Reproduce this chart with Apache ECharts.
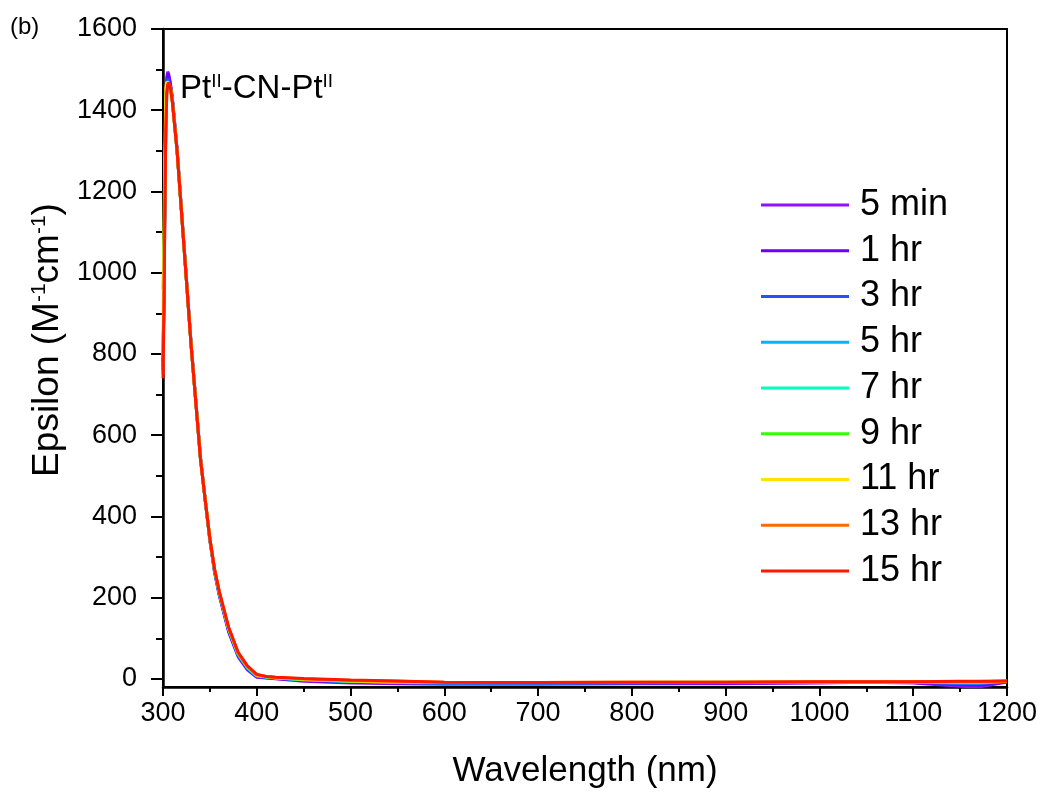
<!DOCTYPE html>
<html>
<head>
<meta charset="utf-8">
<script src="https://cdn.jsdelivr.net/npm/echarts@6/dist/echarts.min.js"></script>
<style>
  html, body { margin: 0; padding: 0; background: #fff; }
  #chart { width: 1043px; height: 792px; }
</style>
</head>
<body>
<div id="chart"></div>
<script>
// 波长 (nm)
var wavelength = [300, 301, 302, 303, 304, 305, 306, 308, 310, 315, 320, 325, 330, 335, 340, 345, 350, 355, 360, 370, 380, 390, 400, 410, 420, 450, 500, 550, 600, 700, 800, 900, 1000, 1050, 1100, 1150, 1170, 1200]

// 各时间点的 epsilon
var eps5min = [760, 950, 1200, 1400, 1480, 1495, 1490, 1465, 1430, 1305, 1145, 985, 825, 685, 545, 440, 340, 262, 205, 115, 55, 22, 4, 2, 0, -6, -10, -12, -13, -13, -12, -12, -10, -8, -10, -18, -20, -8]
var eps1hr = [780, 960, 1210, 1390, 1470, 1490, 1485, 1462, 1428, 1303, 1143, 983, 823, 683, 543, 440, 342, 265, 208, 118, 58, 24, 5, 3, 1, -4, -8, -10, -11, -11, -11, -10, -9, -8, -9, -14, -16, -7]
var eps3hr = [770, 955, 1190, 1380, 1460, 1478, 1478, 1458, 1425, 1302, 1142, 982, 822, 682, 542, 441, 343, 267, 210, 121, 60, 26, 6, 4, 2, -3, -7, -9, -10, -10, -10, -9, -9, -8, -8, -11, -12, -7]
var eps5hr = [775, 950, 1185, 1375, 1455, 1472, 1474, 1456, 1423, 1301, 1141, 981, 821, 682, 542, 441, 344, 268, 211, 122, 61, 27, 7, 4, 2, -2, -6, -9, -10, -10, -9, -9, -8, -8, -8, -10, -10, -6]
var eps7hr = [790, 955, 1180, 1370, 1452, 1470, 1472, 1455, 1422, 1300, 1141, 981, 821, 681, 542, 441, 344, 268, 212, 123, 62, 28, 8, 5, 3, -2, -6, -8, -9, -9, -9, -9, -8, -8, -8, -9, -9, -6]
var eps9hr = [960, 1050, 1200, 1365, 1450, 1468, 1471, 1455, 1421, 1300, 1140, 980, 821, 681, 541, 441, 345, 269, 213, 124, 63, 29, 8, 5, 3, -1, -5, -8, -9, -9, -9, -8, -8, -7, -7, -8, -8, -6]
var eps11hr = [800, 1100, 1300, 1455, 1470, 1470, 1470, 1454, 1420, 1300, 1140, 980, 820, 681, 541, 441, 345, 270, 214, 125, 64, 30, 9, 5, 3, -1, -5, -7, -9, -9, -8, -8, -7, -7, -7, -7, -7, -5]
var eps13hr = [750, 920, 1160, 1355, 1442, 1465, 1469, 1454, 1420, 1300, 1140, 980, 820, 680, 541, 441, 345, 270, 215, 126, 65, 31, 10, 6, 4, 0, -4, -6, -8, -9, -8, -8, -7, -7, -7, -7, -7, -5]
var eps15hr = [740, 900, 1150, 1350, 1440, 1462, 1468, 1455, 1420, 1300, 1140, 980, 820, 680, 540, 440, 345, 270, 215, 127, 66, 32, 11, 6, 4, 1, -3, -5, -8, -9, -8, -8, -7, -7, -7, -6, -6, -5]

var seriesNames = ['5 min', '1 hr', '3 hr', '5 hr', '7 hr', '9 hr', '11 hr', '13 hr', '15 hr']
var seriesValues = [eps5min, eps1hr, eps3hr, eps5hr, eps7hr, eps9hr, eps11hr, eps13hr, eps15hr]
var seriesColors = ['#9010ff', '#6a00ff', '#2450ff', '#00b4ff', '#00ffc0', '#33ff00', '#ffe400', '#ff6a00', '#ff1800']

var yTicks = [0, 200, 400, 600, 800, 1000, 1200, 1400, 1600]

var font = 'Liberation Sans, Arial, sans-serif'

var chart = echarts.init(document.getElementById('chart'))

var series = seriesNames.map(function (name, i) {
  return {
    name: name,
    type: 'line',
    symbol: 'none',
    silent: true,
    lineStyle: { color: seriesColors[i], width: 3 },
    itemStyle: { color: seriesColors[i] },
    data: wavelength.map(function (w, j) { return [w, seriesValues[i][j]] })
  }
})

var option = {
  animation: false,
  backgroundColor: '#fff',
  grid: {
    left: 163, right: 36, top: 29, bottom: 105,
    outerBoundsMode: 'none',
    show: true, borderColor: '#000', borderWidth: 2
  },
  legend: {
    orient: 'vertical',
    left: 756,
    top: 182,
    icon: 'rect',
    itemWidth: 88,
    itemHeight: 3,
    itemGap: 9.75,
    textStyle: { fontFamily: font, fontSize: 36, lineHeight: 36, color: '#000', padding: [0, 0, 0, 6] },
    data: seriesNames
  },
  xAxis: {
    type: 'value',
    min: 300,
    max: 1200,
    interval: 100,
    name: 'Wavelength (nm)',
    nameLocation: 'middle',
    nameGap: 67,
    nameTextStyle: { fontFamily: font, fontSize: 35, color: '#000' },
    axisLine: { onZero: false, lineStyle: { color: '#000', width: 2.5 } },
    axisTick: { inside: false, length: 9, lineStyle: { color: '#000', width: 2 } },
    minorTick: { show: true, splitNumber: 2, length: 5, lineStyle: { color: '#000', width: 2 } },
    axisLabel: {
      fontFamily: font, fontSize: 27, color: '#000', margin: 13,
      formatter: function (v) { return String(v) }
    },
    splitLine: { show: false }
  },
  yAxis: {
    type: 'value',
    min: -20,
    max: 1600,
    splitNumber: 8,
    name: 'Epsilon (M{sup|-1}cm{sup|-1})',
    nameLocation: 'middle',
    nameRotate: 90,
    nameGap: 90,
    nameTextStyle: {
      fontFamily: font, fontSize: 37, color: '#000', padding: [0, 0, 0, 36],
      rich: { sup: { fontFamily: font, fontSize: 21, color: '#000', verticalAlign: 'top', padding: [0, 0, 16, 0] } }
    },
    axisLine: { onZero: false, lineStyle: { color: '#000', width: 2.5 } },
    axisTick: { inside: false, length: 12, customValues: yTicks, lineStyle: { color: '#000', width: 2 } },
    minorTick: { show: true, splitNumber: 2, length: 7, lineStyle: { color: '#000', width: 2 } },
    axisLabel: {
      fontFamily: font, fontSize: 27, color: '#000', margin: 26, customValues: yTicks,
      formatter: function (v) { return String(v) }
    },
    splitLine: { show: false }
  },
  graphic: [
    {
      type: 'text', left: 10, top: 15,
      style: { text: '(b)', font: '24px ' + font, fill: '#000' }
    },
    {
      type: 'text', left: 180, top: 72,
      style: {
        text: 'Pt{sup|II}-CN-Pt{sup|II}',
        fontFamily: font, fontSize: 33, fill: '#000',
        rich: { sup: { fontFamily: font, fontSize: 19, fill: '#000', verticalAlign: 'top', padding: [0, 0, 14, 0] } }
      }
    }
  ],
  series: series
}

chart.setOption(option)
</script>
</body>
</html>
